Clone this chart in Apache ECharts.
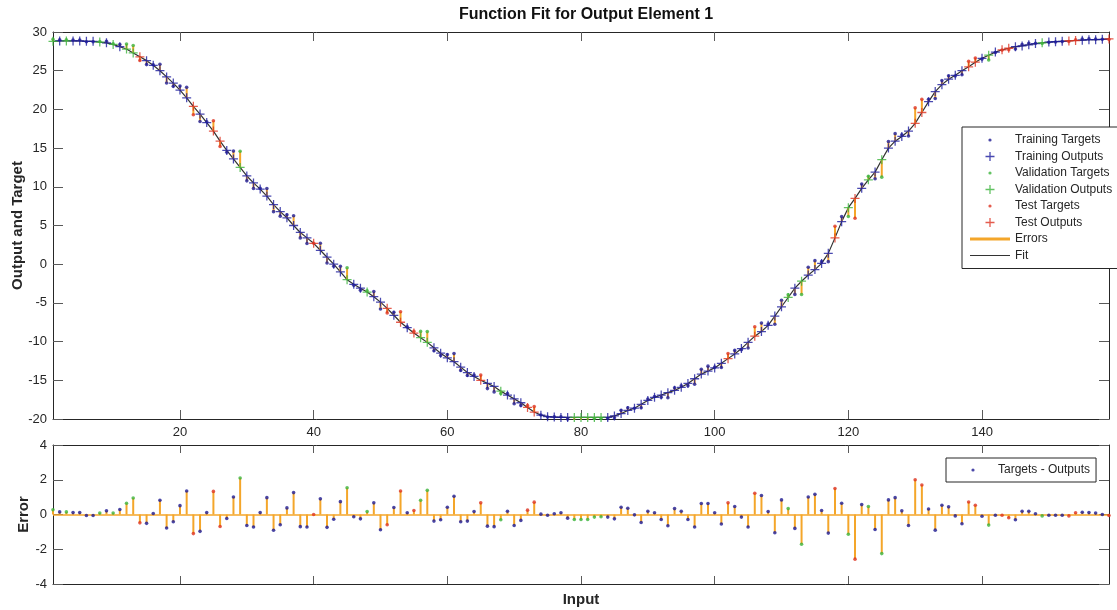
<!DOCTYPE html>
<html>
<head>
<meta charset="utf-8">
<script src="https://cdn.jsdelivr.net/npm/echarts@6/dist/echarts.min.js"></script>
<style>
  html, body { margin: 0; padding: 0; background: #ffffff; }
  #chart { width: 1117px; height: 610px; }
</style>
</head>
<body>
<div id="chart"></div>
<script>
// Input samples
const inputs = [
  1,2,3,4,5,6,7,8,9,10,11,12,13,14,15,16,17,18,19,20,
  21,22,23,24,25,26,27,28,29,30,31,32,33,34,35,36,37,38,39,40,
  41,42,43,44,45,46,47,48,49,50,51,52,53,54,55,56,57,58,59,60,
  61,62,63,64,65,66,67,68,69,70,71,72,73,74,75,76,77,78,79,80,
  81,82,83,84,85,86,87,88,89,90,91,92,93,94,95,96,97,98,99,100,
  101,102,103,104,105,106,107,108,109,110,111,112,113,114,115,116,117,118,119,120,
  121,122,123,124,125,126,127,128,129,130,131,132,133,134,135,136,137,138,139,140,
  141,142,143,144,145,146,147,148,149,150,151,152,153,154,155,156,157,158,159
];

// Network outputs for each input
const outputs = [
  28.8, 28.85, 28.85, 28.85, 28.85, 28.8, 28.8, 28.7, 28.6, 28.4,
  28.1, 27.8, 27.3, 26.8, 26.3, 25.7, 25.0, 24.2, 23.4, 22.5,
  21.5, 20.4, 19.4, 18.3, 17.2, 15.9, 14.7, 13.6, 12.5, 11.4,
  10.5, 9.7, 8.8, 7.7, 6.8, 6.0, 5.0, 4.1, 3.4, 2.7,
  1.8, 0.9, 0.0, -1.0, -2.0, -2.6, -3.1, -3.6, -4.2, -4.9,
  -5.7, -6.6, -7.5, -8.2, -8.9, -9.5, -10.1, -10.8, -11.5, -12.1,
  -12.6, -13.3, -14.0, -14.5, -15.0, -15.4, -15.8, -16.4, -16.9, -17.4,
  -17.9, -18.5, -19.1, -19.5, -19.7, -19.75, -19.8, -19.8, -19.8, -19.8,
  -19.8, -19.8, -19.8, -19.8, -19.6, -19.3, -18.9, -18.6, -18.1, -17.6,
  -17.2, -16.9, -16.6, -16.3, -15.9, -15.4, -14.8, -14.2, -13.8, -13.4,
  -12.8, -12.2, -11.6, -10.9, -10.1, -9.3, -8.7, -7.9, -6.7, -5.5,
  -4.3, -3.1, -2.2, -1.4, -0.7, 0.1, 1.4, 3.4, 5.5, 7.3,
  8.5, 9.8, 10.9, 11.9, 13.5, 15.0, 15.9, 16.5, 17.2, 18.2,
  19.6, 21.0, 22.3, 23.2, 23.9, 24.4, 25.0, 25.5, 26.1, 26.6,
  27.0, 27.4, 27.7, 27.9, 28.1, 28.2, 28.35, 28.5, 28.6, 28.7,
  28.75, 28.8, 28.85, 28.9, 28.95, 29.0, 29.0, 29.05, 29.1
];

// Errors (targets - outputs) for each input
const errors = [
  0.27, 0.15, 0.15, 0.11, 0.11, -0.06, -0.06, 0.08, 0.21, 0.08,
  0.29, 0.65, 0.95, -0.48, -0.51, 0.06, 0.82, -0.78, -0.42, 0.51,
  1.35, -1.10, -0.97, 0.11, 1.33, -0.69, -0.23, 1.01, 2.10, -0.63,
  -0.72, 0.11, 0.97, -0.91, -0.59, 0.38, 1.26, -0.70, -0.72, 0.00,
  0.90, -0.74, -0.27, 0.74, 1.54, -0.13, -0.25, 0.17, 0.67, -0.88,
  -0.59, 0.40, 1.35, 0.10, 0.23, 0.82, 1.39, -0.38, -0.30, 0.42,
  1.05, -0.42, -0.38, 0.17, 0.67, -0.67, -0.70, -0.30, 0.19, -0.63,
  -0.34, 0.25, 0.71, 0.02, -0.04, 0.04, 0.10, -0.21, -0.29, -0.29,
  -0.29, -0.15, -0.13, -0.15, -0.25, 0.42, 0.36, -0.02, -0.46, 0.19,
  0.10, -0.29, -0.65, 0.34, 0.19, -0.29, -0.72, 0.63, 0.63, 0.10,
  -0.55, 0.67, 0.46, -0.15, -0.72, 1.22, 1.09, 0.17, -1.05, 0.84,
  0.34, -0.80, -1.71, 1.01, 1.16, 0.23, -1.07, 1.50, 0.65, -1.14,
  -2.57, 0.57, 0.46, -0.86, -2.25, 0.84, 0.97, 0.21, -0.63, 2.00,
  1.70, 0.32, -0.90, 0.53, 0.44, -0.08, -0.53, 0.72, 0.53, -0.10,
  -0.61, -0.04, -0.04, -0.19, -0.30, 0.19, 0.19, 0.04, -0.08, -0.04,
  -0.04, -0.04, -0.08, 0.10, 0.13, 0.11, 0.08, 0.00, -0.06
];

// Inputs held out for validation and testing (the rest are training)
const validationInputs = [1, 3, 8, 10, 12, 13, 29, 45, 48, 56, 57, 68, 79, 80, 81, 82, 83, 111, 113, 120, 123, 125, 141, 149];
const testInputs = [14, 22, 25, 26, 40, 51, 53, 55, 65, 72, 73, 102, 106, 118, 121, 130, 131, 138, 139, 143, 144, 153, 154, 159];

// Axis ticks
const inputTicks = [20, 40, 60, 80, 100, 120, 140];

const FONT = "'Liberation Sans', Arial, Helvetica, sans-serif";
const INK = '#262626';
const TICK = '#5a5a5a';
const NAVY = '#1e1a92';
const NAVY_PLUS = '#1c1c9e';
const GREEN = '#3cb43c';
const RED = '#dd3322';
const ORANGE = '#f4a62a';
const FIT = '#333333';

const PLUS = 'path://M4.3,0H5.7V10H4.3Z M0,4.3H10V5.7H0Z';
const ICON_DOT = 'path://M0,0M40,14M18.4,7a1.6,1.6 0 1,0 3.2,0a1.6,1.6 0 1,0 -3.2,0Z';
const ICON_PLUS = 'path://M0,0M40,14M19.35,2.5h1.3v9h-1.3z M15.5,6.35h9v1.3h-9z';
const ICON_ERR = 'path://M0,0M40,14M0,5.5h40v3h-40z';
const ICON_FIT = 'path://M0,0M40,14M0,6.4h40v1.2h-40z';

const rows = inputs.map((x, i) => ({
  x,
  out: outputs[i],
  err: errors[i],
  tgt: +(outputs[i] + errors[i]).toFixed(3),
  split: validationInputs.includes(x) ? 'val' : (testInputs.includes(x) ? 'test' : 'train')
}));
const pick = (split) => rows.filter(r => r.split === split);

// Vertical segment between two values at the same input
function vbar(params, api) {
  const x = api.value(0);
  const p1 = api.coord([x, api.value(1)]);
  const p2 = api.coord([x, api.value(2)]);
  return {
    type: 'line',
    shape: { x1: p1[0], y1: p1[1], x2: p2[0], y2: p2[1] },
    style: { stroke: ORANGE, lineWidth: 2 }
  };
}

function xAxisDef(gridIndex, position, showLabels, tickLen, extra) {
  return Object.assign({
    type: 'value', gridIndex, position, min: 1, max: 159,
    axisLine: { show: true, onZero: false, lineStyle: { color: INK, width: 1 } },
    axisTick: { show: true, inside: true, length: tickLen, customValues: inputTicks, lineStyle: { color: TICK } },
    axisLabel: { show: showLabels, customValues: inputTicks, margin: 7, fontSize: 13, color: INK, fontFamily: FONT },
    splitLine: { show: false }
  }, extra || {});
}

function yAxisDef(gridIndex, position, min, max, interval, showLabels, extra) {
  return Object.assign({
    type: 'value', gridIndex, position, min, max, interval,
    axisLine: { show: true, onZero: false, lineStyle: { color: INK, width: 1 } },
    axisTick: { show: true, inside: true, length: 10, lineStyle: { color: TICK } },
    axisLabel: { show: showLabels, margin: 6, fontSize: 13, color: INK, fontFamily: FONT },
    splitLine: { show: false }
  }, extra || {});
}

const nameStyle = { fontWeight: 'bold', fontSize: 15, color: INK, fontFamily: FONT };

const dotSeries = (name, data, color, xi, yi, valueKey) => ({
  name, type: 'scatter', xAxisIndex: xi, yAxisIndex: yi,
  symbol: 'circle', symbolSize: 3.6, z: 5,
  itemStyle: { color }, color,
  data: data.map(r => [r.x, r[valueKey]])
});

const plusSeries = (name, data, color) => ({
  name, type: 'scatter', xAxisIndex: 0, yAxisIndex: 0,
  symbol: PLUS, symbolSize: 9, z: 6,
  itemStyle: { color }, color,
  data: data.map(r => [r.x, r.out])
});

const option = {
  animation: false,
  backgroundColor: '#ffffff',
  title: {
    text: 'Function Fit for Output Element 1',
    left: 581, top: 2, textAlign: 'center',
    textStyle: { fontWeight: 'bold', fontSize: 16, color: '#111111', fontFamily: FONT }
  },
  grid: [
    { left: 53, top: 32, width: 1056, height: 387, containLabel: false, outerBoundsMode: 'none' },
    { left: 53, top: 445, width: 1056, height: 139, containLabel: false, outerBoundsMode: 'none' }
  ],
  xAxis: [
    xAxisDef(0, 'bottom', true, 9),
    xAxisDef(0, 'top', false, 9),
    xAxisDef(1, 'bottom', false, 8, { name: 'Input', nameLocation: 'middle', nameGap: 8, nameMoveOverlap: false, nameTextStyle: nameStyle }),
    xAxisDef(1, 'top', false, 8)
  ],
  yAxis: [
    yAxisDef(0, 'left', -20, 30, 5, true, { name: 'Output and Target', nameLocation: 'middle', nameGap: 28, nameMoveOverlap: false, nameTextStyle: nameStyle }),
    yAxisDef(0, 'right', -20, 30, 5, false),
    yAxisDef(1, 'left', -4, 4, 2, true, { name: 'Error', nameLocation: 'middle', nameGap: 22, nameMoveOverlap: false, nameTextStyle: nameStyle }),
    yAxisDef(1, 'right', -4, 4, 2, false)
  ],
  legend: [
    {
      orient: 'vertical', left: 962, top: 127,
      itemWidth: 40, itemHeight: 14, itemGap: 2.5,
      padding: [6, 8, 6, 8],
      borderColor: INK, borderWidth: 1, backgroundColor: '#ffffff',
      selectedMode: false,
      textStyle: { fontSize: 12, color: INK, fontFamily: FONT },
      data: [
        { name: 'Training Targets', icon: ICON_DOT },
        { name: 'Training Outputs', icon: ICON_PLUS },
        { name: 'Validation Targets', icon: ICON_DOT },
        { name: 'Validation Outputs', icon: ICON_PLUS },
        { name: 'Test Targets', icon: ICON_DOT },
        { name: 'Test Outputs', icon: ICON_PLUS },
        { name: 'Errors', icon: ICON_ERR },
        { name: 'Fit', icon: ICON_FIT }
      ]
    },
    {
      orient: 'vertical', left: 946, top: 458,
      itemWidth: 40, itemHeight: 14,
      padding: [5, 6, 5, 7],
      borderColor: INK, borderWidth: 1, backgroundColor: '#ffffff',
      selectedMode: false,
      textStyle: { fontSize: 12, color: INK, fontFamily: FONT },
      data: [{ name: 'Targets - Outputs', icon: ICON_DOT }]
    }
  ],
  series: [
    {
      name: 'Fit', type: 'line', xAxisIndex: 0, yAxisIndex: 0,
      showSymbol: false, symbol: 'none', z: 2,
      color: FIT, itemStyle: { color: FIT },
      lineStyle: { color: FIT, width: 1.2 },
      data: rows.map(r => [r.x, r.out])
    },
    {
      name: 'Errors', type: 'custom', xAxisIndex: 0, yAxisIndex: 0, z: 3,
      color: ORANGE, itemStyle: { color: ORANGE },
      renderItem: vbar,
      encode: { x: 0, y: [1, 2] },
      data: rows.map(r => [r.x, r.out, r.tgt])
    },
    dotSeries('Training Targets', pick('train'), NAVY, 0, 0, 'tgt'),
    plusSeries('Training Outputs', pick('train'), NAVY_PLUS),
    dotSeries('Validation Targets', pick('val'), GREEN, 0, 0, 'tgt'),
    plusSeries('Validation Outputs', pick('val'), GREEN),
    dotSeries('Test Targets', pick('test'), RED, 0, 0, 'tgt'),
    plusSeries('Test Outputs', pick('test'), RED),

    {
      name: 'Error stems', type: 'custom', xAxisIndex: 2, yAxisIndex: 2, z: 3,
      color: ORANGE, itemStyle: { color: ORANGE },
      renderItem: vbar,
      encode: { x: 0, y: [1, 2] },
      data: rows.map(r => [r.x, 0, r.err]),
      markLine: {
        silent: true, symbol: 'none', animation: false,
        label: { show: false },
        lineStyle: { color: ORANGE, type: 'solid', width: 1.6 },
        data: [{ yAxis: 0 }]
      }
    },
    dotSeries('Targets - Outputs', pick('train'), NAVY, 2, 2, 'err'),
    dotSeries('Validation Errors', pick('val'), GREEN, 2, 2, 'err'),
    dotSeries('Test Errors', pick('test'), RED, 2, 2, 'err')
  ]
};

const chart = echarts.init(document.getElementById('chart'), null, { renderer: 'canvas' });
chart.setOption(option);
</script>
</body>
</html>
